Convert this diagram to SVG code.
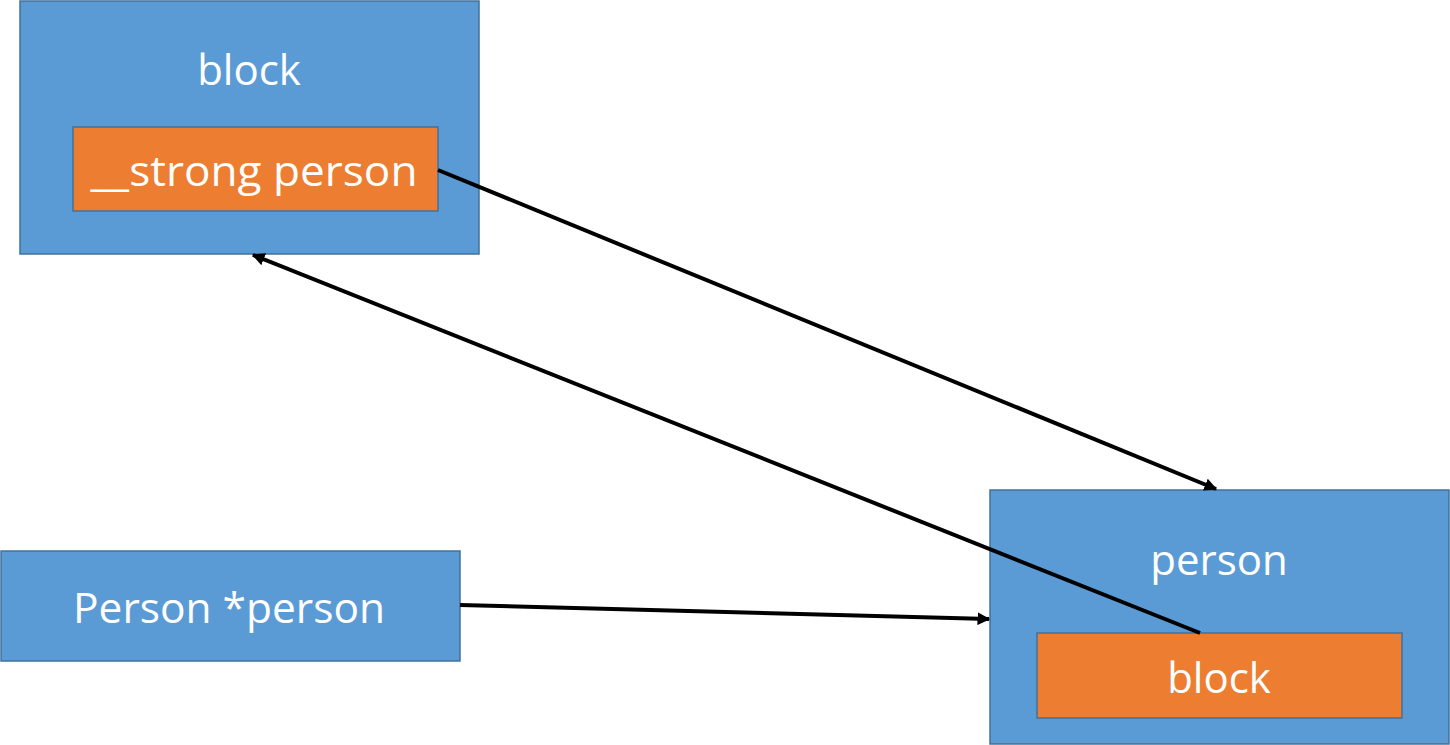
<svg xmlns="http://www.w3.org/2000/svg" width="1450" height="745" viewBox="0 0 1450 745">
<style>
.outer{fill:#5B9BD5;stroke:#41719C;stroke-width:1.5}
.inner{fill:#ED7D31;stroke:#41719C;stroke-width:1.5}
.t{font-family:"Open Sans","Liberation Sans",sans-serif;font-size:42px;fill:#fff;text-anchor:middle}
.c{stroke:#000;stroke-width:4;fill:none;marker-end:url(#ah)}
</style>
<defs>
<marker id="ah" viewBox="0 0 10 10" refX="9" refY="5" markerWidth="3.2" markerHeight="3.2" orient="auto" markerUnits="strokeWidth">
<path d="M0,0 L10,5 L0,10 z" fill="#000"/>
</marker>
</defs>
<rect width="1450" height="745" fill="#fff"/>
<g id="block">
<rect class="outer" x="20" y="1" width="459" height="253"/>
<text class="t" x="249" y="85">block</text>
</g>
<g id="strong-person">
<rect class="inner" x="73" y="127" width="365" height="84"/>
<text class="t" x="254" y="186" textLength="327" lengthAdjust="spacingAndGlyphs">__strong person</text>
</g>
<g id="person-var">
<rect class="outer" x="1" y="551" width="459" height="110"/>
<text class="t" x="229" y="623" textLength="312" lengthAdjust="spacingAndGlyphs">Person *person</text>
</g>
<g id="person">
<rect class="outer" x="990" y="490" width="459" height="254"/>
<text class="t" x="1219" y="575">person</text>
</g>
<g id="block-field">
<rect class="inner" x="1037" y="633" width="365" height="85"/>
<text class="t" x="1219" y="693">block</text>
</g>
<g id="connectors">
<line class="c" x1="438" y1="170" x2="1216" y2="489"/>
<line class="c" x1="1200" y1="633" x2="253" y2="255"/>
<line class="c" x1="460" y1="605" x2="989" y2="619"/>
</g>
</svg>
